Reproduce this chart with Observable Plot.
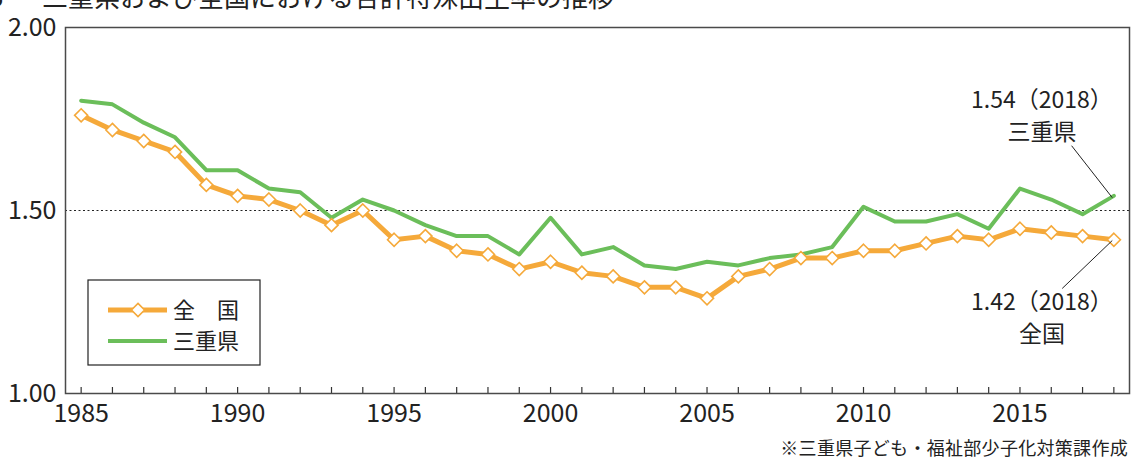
<!DOCTYPE html>
<html><head><meta charset="utf-8">
<script src="https://cdn.jsdelivr.net/npm/d3@7"></script>
<script src="https://cdn.jsdelivr.net/npm/@observablehq/plot@0.6"></script>
<style>
body{margin:0;background:#fff;width:1131px;height:459px;overflow:hidden;position:relative;font-family:"Noto Sans CJK JP",sans-serif;}
#title{position:absolute;top:-17px;left:0;font-size:26px;line-height:26px;white-space:nowrap;color:#222;}
#chart{position:absolute;top:0;left:0;}
#legend{position:absolute;top:0;left:0;}
#caption{position:absolute;right:3px;top:436px;font-size:18px;line-height:22px;color:#222;white-space:nowrap;letter-spacing:0.3px;}
</style></head>
<body>
<div id="title"><span style="position:absolute;left:-11px">5</span><span style="position:absolute;left:42px">三重県および全国における合計特殊出生率の推移</span></div>
<div id="chart"></div>
<div id="caption">※三重県子ども・福祉部少子化対策課作成</div>
<script>
const years = [1985,1986,1987,1988,1989,1990,1991,1992,1993,1994,1995,1996,1997,1998,1999,2000,2001,2002,2003,2004,2005,2006,2007,2008,2009,2010,2011,2012,2013,2014,2015,2016,2017,2018];
const labelYears = [1985,1990,1995,2000,2005,2010,2015];
const yTicks = [1.0,1.5,2.0];
const national = [1.76,1.72,1.69,1.66,1.57,1.54,1.53,1.50,1.46,1.50,1.42,1.43,1.39,1.38,1.34,1.36,1.33,1.32,1.29,1.29,1.26,1.32,1.34,1.37,1.37,1.39,1.39,1.41,1.43,1.42,1.45,1.44,1.43,1.42];
const mie = [1.80,1.79,1.74,1.70,1.61,1.61,1.56,1.55,1.48,1.53,1.50,1.46,1.43,1.43,1.38,1.48,1.38,1.40,1.35,1.34,1.36,1.35,1.37,1.38,1.40,1.51,1.47,1.47,1.49,1.45,1.56,1.53,1.49,1.54];
const seriesNames = ["全　国","三重県"];
const colors = ["#F5A93A","#6BBE5A"];
const annotations = [
  {x:2015.7, y:1.765, text:"1.54（2018）\n三重県"},
  {x:2015.7, y:1.213, text:"1.42（2018）\n全国"}
];
const leaders = [
  {x1:2016.65, y1:1.677, x2:2017.95, y2:1.535},
  {x1:2016.35, y1:1.287, x2:2017.95, y2:1.418}
];

const natData = years.map((y,i)=>({year:y, value:national[i]}));
const mieData = years.map((y,i)=>({year:y, value:mie[i]}));
const numFont = '"Liberation Sans Narrow","Noto Sans CJK JP",sans-serif';

const plot = Plot.plot({
  width:1131, height:436,
  marginTop:27, marginLeft:65, marginRight:2, marginBottom:43,
  style:{fontFamily:numFont, fontSize:"25px", color:"#222", background:"transparent"},
  x:{domain:[1984.5,2018.5]},
  y:{domain:[1,2]},
  marks:[
    Plot.ruleY([1.5], {stroke:"#222", strokeWidth:1, strokeDasharray:"2,2.5"}),
    Plot.axisX({ticks:years, tickSize:6, dy:-6, tickFormat:()=>"", stroke:"#333", strokeWidth:1.2, label:null}),
    Plot.axisX({ticks:labelYears, tickSize:0, tickPadding:11, tickFormat:d=>String(d), fontSize:25, label:null}),
    Plot.axisY({ticks:yTicks, tickSize:0, tickPadding:9, tickFormat:d3.format(".2f"), fontSize:25, label:null}),
    Plot.line(mieData, {x:"year", y:"value", stroke:colors[1], strokeWidth:4}),
    Plot.line(natData, {x:"year", y:"value", stroke:colors[0], strokeWidth:5}),
    Plot.dot(natData, {x:"year", y:"value", symbol:"diamond2", r:5.9, fill:"#fff", stroke:colors[0], strokeWidth:1.6}),
    Plot.link(leaders, {x1:"x1", y1:"y1", x2:"x2", y2:"y2", stroke:"#222", strokeWidth:1}),
    Plot.text(annotations, {x:"x", y:"y", text:"text", fontSize:23, lineHeight:1.42, fill:"#222", fontFamily:numFont}),
    Plot.frame({stroke:"#4a4a4a", strokeWidth:1.5})
  ]
});
document.getElementById("chart").appendChild(plot);

// legend
const lg = d3.select("body").append("svg").attr("id","legend").attr("width",1131).attr("height",459);
lg.append("rect").attr("x",88).attr("y",280).attr("width",172).attr("height",85).attr("fill","#fff").attr("stroke","#222").attr("stroke-width",1.2);
const rows = [{y:310, c:colors[0], w:5, t:seriesNames[0], dot:true},{y:341, c:colors[1], w:4, t:seriesNames[1], dot:false}];
rows.forEach(r=>{
  lg.append("line").attr("x1",108).attr("x2",167).attr("y1",r.y).attr("y2",r.y).attr("stroke",r.c).attr("stroke-width",r.w);
  if(r.dot){
    lg.append("path").attr("d",d3.symbol(d3.symbolDiamond2, 110)()).attr("transform",`translate(138,${r.y})`).attr("fill","#fff").attr("stroke",r.c).attr("stroke-width",1.6);
  }
  lg.append("text").attr("x",173).attr("y",r.y).attr("dy","0.36em").attr("font-size",22).attr("fill","#222").attr("font-family",'"Noto Sans CJK JP",sans-serif').text(r.t);
});
</script>
</body></html>
